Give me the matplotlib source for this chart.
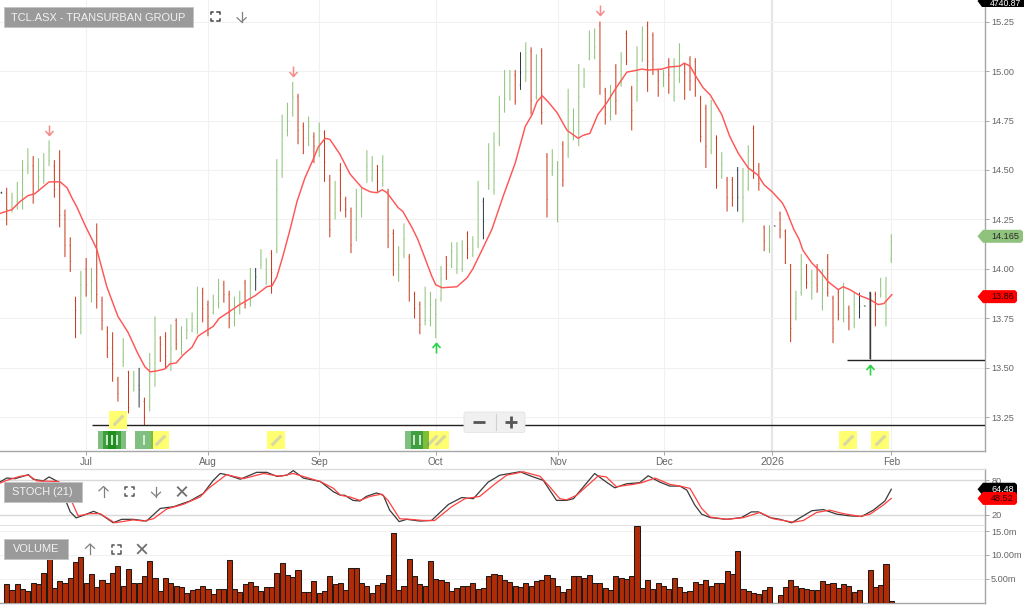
"""TCL.ASX daily price chart with stochastic and volume panes."""

import matplotlib

matplotlib.use("Agg")
import matplotlib.pyplot as plt
import numpy as np
from matplotlib.patches import FancyBboxPatch, Polygon, Rectangle
from matplotlib.path import Path

plt.rcParams["font.family"] = ["Liberation Sans", "DejaVu Sans"]

bar_dirs = (
    "krggggrggg" "rrrrrgrgrr" "rrrgrgkrgg" "rrgrggggrr" "ggrrggrgkg"
    "grggggrrgr" "grrgrrrggg" "grgrrggrrr" "ggggrgggrg" "gkgggggrkg"
    "rgrrggrggg" "gggrrgrgrr" "ggrrrgrggr" "rrrrgrgrrk" "ggrrrgkrrr"
    "ggrgrgrrrg" "rgkkkrggg"
)
highs = [
    14.39, 14.41, 14.385, 14.44, 14.55, 14.61, 14.57, 14.56, 14.585, 14.65,
    14.55, 14.60, 14.30, 14.16, 13.86, 13.99, 14.055, 14.005, 14.23, 13.86,
    13.71, 13.68, 13.455, 13.65, 13.485, 13.485, 13.50, 13.35, 13.575, 13.76,
    13.66, 13.68, 13.72, 13.75, 13.71, 13.75, 13.78, 13.91, 13.905, 13.84,
    13.87, 13.95, 13.94, 13.89, 13.86, 13.89, 13.945, 14.005, 14.005, 14.10,
    14.055, 14.095, 14.555, 14.78, 14.84, 14.945, 14.885, 14.74, 14.77, 14.69,
    14.74, 14.70, 14.475, 14.445, 14.535, 14.365, 14.31, 14.405, 14.41, 14.60,
    14.57, 14.525, 14.575, 14.405, 14.20, 14.115, 14.23, 14.075, 13.885, 13.835,
    13.91, 13.885, 13.85, 14.015, 14.065, 14.135, 14.135, 14.145, 14.19, 14.165,
    14.445, 14.36, 14.635, 14.69, 14.875, 15.005, 15.005, 15.005, 15.095, 15.145,
    15.12, 15.085, 15.115, 14.585, 14.605, 14.545, 14.645, 14.91, 14.81, 15.035,
    15.015, 15.205, 15.215, 15.25, 14.915, 14.93, 15.035, 15.095, 15.205, 14.925,
    15.125, 15.225, 15.25, 15.195, 15.005, 15.005, 15.065, 15.065, 15.14, 15.04,
    15.075, 15.065, 14.875, 14.83, 14.855, 14.675, 14.59, 14.465, 14.465, 14.515,
    14.51, 14.625, 14.725, 14.535, 14.22, 14.22, 14.22, 14.29, 14.20, 14.025,
    13.89, 14.075, 14.025, 13.995, 14.025, 14.00, 14.075, 13.865, 13.895, 13.93,
    13.815, 13.88, 13.88, 13.815, 13.885, 13.885, 13.955, 13.96, 14.175,
]
lows = [
    14.38, 14.22, 14.285, 14.30, 14.30, 14.48, 14.33, 14.39, 14.43, 14.52,
    14.36, 14.21, 14.06, 13.985, 13.65, 13.67, 13.86, 13.83, 13.80, 13.69,
    13.55, 13.43, 13.33, 13.505, 13.27, 13.38, 13.30, 13.21, 13.28, 13.405,
    13.53, 13.495, 13.485, 13.59, 13.565, 13.645, 13.68, 13.67, 13.73, 13.66,
    13.77, 13.80, 13.83, 13.70, 13.71, 13.77, 13.80, 13.81, 13.89, 14.00,
    13.92, 13.875, 14.08, 14.46, 14.67, 14.77, 14.63, 14.58, 14.62, 14.535,
    14.565, 14.44, 14.16, 14.25, 14.29, 14.26, 14.08, 14.14, 14.26, 14.435,
    14.44, 14.39, 14.415, 14.105, 13.965, 13.935, 14.055, 13.835, 13.75, 13.67,
    13.715, 13.71, 13.65, 13.835, 13.945, 14.005, 13.975, 13.985, 14.05, 14.06,
    14.105, 14.15, 14.40, 14.375, 14.62, 14.79, 14.85, 14.83, 14.905, 14.945,
    14.78, 14.855, 14.73, 14.26, 14.47, 14.235, 14.415, 14.56, 14.65, 14.62,
    14.915, 15.055, 15.06, 14.88, 14.73, 14.75, 14.78, 14.92, 15.03, 14.70,
    14.845, 15.045, 14.895, 14.98, 14.87, 14.92, 14.885, 14.845, 14.94, 14.855,
    14.90, 14.87, 14.64, 14.51, 14.58, 14.405, 14.455, 14.29, 14.315, 14.29,
    14.235, 14.395, 14.455, 14.395, 14.09, 14.08, 14.215, 14.155, 14.025, 13.63,
    13.74, 13.865, 13.90, 13.845, 13.88, 13.79, 13.86, 13.625, 13.74, 13.73,
    13.69, 13.70, 13.75, 13.81, 13.545, 13.71, 13.855, 13.71, 14.03,
]
opens = [
    14.385, 14.38, 14.31, 14.34, 14.37, 14.51, 14.52, 14.42, 14.46, 14.55,
    14.52, 14.42, 14.27, 14.12, 13.84, 13.75, 14.00, 13.88, 14.17, 13.84,
    13.68, 13.60, 13.44, 13.53, 13.48, 13.39, 13.41, 13.33, 13.30, 13.52,
    13.65, 13.66, 13.52, 13.74, 13.60, 13.65, 13.69, 13.71, 13.88, 13.82,
    13.78, 13.83, 13.92, 13.87, 13.73, 13.79, 13.93, 13.83, 13.99, 14.02,
    14.04, 14.08, 14.10, 14.48, 14.70, 14.79, 14.87, 14.72, 14.66, 14.67,
    14.60, 14.69, 14.45, 14.28, 14.50, 14.35, 14.29, 14.16, 14.30, 14.47,
    14.46, 14.52, 14.43, 14.39, 14.18, 13.96, 14.07, 14.06, 13.87, 13.82,
    13.74, 13.74, 13.68, 13.85, 14.06, 14.02, 14.00, 14.00, 14.18, 14.07,
    14.13, 14.34, 14.42, 14.40, 14.64, 14.81, 14.88, 14.98, 14.93, 14.97,
    15.10, 14.87, 15.10, 14.57, 14.49, 14.26, 14.63, 14.58, 14.67, 14.64,
    14.93, 15.06, 15.07, 15.23, 14.90, 14.77, 15.02, 14.94, 15.19, 14.91,
    14.87, 15.06, 15.23, 15.18, 15.00, 14.94, 15.05, 14.87, 14.96, 15.03,
    15.06, 15.05, 14.86, 14.81, 14.60, 14.66, 14.47, 14.45, 14.45, 14.50,
    14.26, 14.41, 14.71, 14.52, 14.21, 14.10, 14.22, 14.28, 14.19, 14.02,
    13.76, 13.88, 14.01, 13.87, 14.01, 13.81, 14.06, 13.85, 13.88, 13.75,
    13.80, 13.72, 13.87, 13.815, 13.88, 13.87, 13.87, 13.73, 14.05,
]
closes = [
    14.385, 14.30, 14.36, 14.40, 14.50, 14.52, 14.42, 14.46, 14.50, 14.60,
    14.40, 14.27, 14.12, 14.04, 13.79, 13.92, 13.92, 13.94, 13.87, 13.74,
    13.60, 13.52, 13.37, 13.57, 13.30, 13.41, 13.39, 13.25, 13.52, 13.69,
    13.62, 13.56, 13.60, 13.62, 13.63, 13.69, 13.71, 13.83, 13.80, 13.76,
    13.82, 13.90, 13.87, 13.75, 13.78, 13.83, 13.82, 13.96, 13.96, 14.04,
    13.96, 13.98, 14.40, 14.68, 14.75, 14.87, 14.70, 14.66, 14.72, 14.62,
    14.70, 14.54, 14.20, 14.35, 14.38, 14.30, 14.12, 14.31, 14.36, 14.52,
    14.52, 14.44, 14.50, 14.17, 14.02, 14.02, 14.15, 13.96, 13.80, 13.72,
    13.83, 13.82, 13.77, 13.95, 14.02, 14.09, 14.05, 14.09, 14.10, 14.10,
    14.30, 14.24, 14.55, 14.53, 14.78, 14.86, 14.95, 14.85, 14.99, 15.00,
    14.85, 14.97, 14.79, 14.35, 14.53, 14.50, 14.45, 14.80, 14.70, 14.87,
    14.98, 15.10, 15.12, 15.00, 14.78, 14.82, 14.85, 15.05, 15.05, 14.80,
    14.95, 15.16, 15.05, 15.06, 14.95, 14.98, 14.98, 14.92, 15.08, 14.99,
    14.95, 14.95, 14.67, 14.62, 14.79, 14.42, 14.53, 14.36, 14.36, 14.36,
    14.36, 14.60, 14.48, 14.43, 14.14, 14.19, 14.215, 14.20, 14.03, 13.70,
    13.85, 13.95, 13.93, 13.93, 13.92, 13.95, 13.88, 13.70, 13.77, 13.80,
    13.76, 13.82, 13.81, 13.81, 13.81, 13.79, 13.87, 13.80, 14.14,
]
ma_pos = [
    -0.3, 2.0, 3.5, 5.0, 6.3, 9.0, 11.1, 12.4, 13.3, 14.3, 15.8, 17.1, 18.0, 19.9,
    22.0, 23.9, 25.8, 27.1, 28.1, 29.4, 30.9, 31.8, 33.0, 34.3, 36.0, 37.1, 38.8,
    40.0, 41.1, 42.8, 45.0, 47.9, 50.1, 51.1, 52.0, 53.2, 54.5, 55.8, 57.3, 58.8,
    59.8, 61.1, 62.0, 63.9, 65.8, 67.1, 68.1, 69.6, 70.9, 71.9, 72.8, 74.9, 75.8,
    77.5, 78.6, 79.6, 81.3, 82.0, 83.2, 86.0, 87.9, 89.0, 90.9, 92.6, 94.7, 97.0,
    98.9, 100.2, 101.1, 102.1, 103.2, 104.9, 106.8, 108.9, 109.8, 111.1, 112.6,
    114.3, 115.8, 118.1, 119.2, 120.9, 122.1, 124.7, 125.9, 128.1, 128.9, 130.0,
    131.3, 132.5, 133.8, 136.0, 137.5, 139.1, 141.0, 142.8, 144.0, 145.5, 147.4,
    148.1, 149.6, 150.6, 151.3, 153.0, 154.5, 156.1, 158.0, 158.9, 160.2, 162.1,
    164.0, 165.5, 166.6, 168.1,
]
ma_val = [
    14.28, 14.30, 14.34, 14.37, 14.38, 14.44, 14.44, 14.41, 14.36, 14.31, 14.22, 14.15, 14.10, 13.91,
    13.76, 13.68, 13.57, 13.505, 13.48, 13.485, 13.495, 13.52, 13.525, 13.565, 13.605, 13.66, 13.69,
    13.71, 13.75, 13.78, 13.82, 13.865, 13.91, 13.915, 13.96, 14.07, 14.20, 14.34, 14.46, 14.55,
    14.615, 14.66, 14.655, 14.58, 14.48, 14.44, 14.41, 14.39, 14.385, 14.40, 14.385, 14.31, 14.29,
    14.21, 14.15, 14.08, 13.96, 13.92, 13.905, 13.91, 13.955, 14.00, 14.105, 14.20, 14.365, 14.535,
    14.72, 14.78, 14.845, 14.875, 14.845, 14.79, 14.70, 14.66, 14.675, 14.685, 14.78,
    14.84, 14.905, 14.995, 15.00, 15.01, 15.005, 15.01, 15.02, 15.025, 15.04, 15.025,
    14.965, 14.915, 14.88, 14.78, 14.67, 14.585, 14.51, 14.475, 14.425, 14.39, 14.335,
    14.30, 14.20, 14.15, 14.095, 14.03, 13.99, 13.935, 13.895, 13.91, 13.895, 13.865,
    13.845, 13.82, 13.825, 13.87,
]
stoch_k_pos = [
    -0.3, 1.0, 2.6, 5.1, 6.0, 7.9, 9.0, 10.8, 12.0, 13.0, 14.1, 15.5, 17.4, 18.9, 21.1, 22.7, 24.9,
    27.4, 30.0, 32.5, 35.6, 38.1, 40.0, 41.3, 42.5, 45.1, 48.2, 50.1, 52.0, 53.9, 55.1, 57.0, 60.2,
    62.7, 64.0, 64.8, 66.4, 67.7, 68.9, 70.8, 72.1, 73.3, 75.1, 76.5, 79.0, 81.2, 84.4, 86.9, 89.1,
    91.9, 94.1, 97.9, 100.1, 102.3, 104.8, 106.7, 108.0, 112.0, 114.2, 115.8, 118.0, 120.5, 122.1,
    124.3, 126.2, 128.1, 129.4, 130.9, 132.2, 133.8, 136.9, 139.7, 141.6, 142.9, 145.1, 147.0, 149.2,
    153.0, 155.2, 157.7, 160.2, 162.4, 164.6, 166.8, 168.0,
]
stoch_k = [
    77, 84, 83, 90, 82, 79, 86, 77, 48, 25, 14.5, 19, 26, 20, 6, 12, 12,
    9, 31, 34, 44, 57, 80, 92, 90, 82, 94, 94, 87, 89, 97, 84, 78,
    60, 54, 54, 45, 44, 52, 58, 54, 28, 8, 12, 9, 10, 38, 50, 48,
    77, 89, 95, 87, 80, 45, 45, 48, 92, 77, 67, 74, 76, 88,
    77, 70, 70, 63, 37, 21, 15, 12, 15, 25, 25, 15, 12, 6,
    27, 29, 21, 18, 17, 28, 44, 64.48,
]
stoch_d_pos = [
    -0.3, 1.0, 3.5, 5.1, 6.7, 10.8, 12.3, 14.5, 16.7, 18.6, 21.4, 24.9, 26.8, 28.7, 31.2, 34.3, 37.5,
    39.1, 42.5, 45.7, 49.5, 52.6, 55.1, 60.2, 62.7, 64.0, 65.8, 67.7, 69.6, 71.8, 73.0, 75.2, 77.1,
    79.6, 81.8, 85.0, 87.5, 90.3, 93.2, 95.4, 98.5, 101.7, 103.5, 105.4, 106.7, 108.6, 112.7, 114.2,
    116.1, 119.3, 120.9, 123.4, 126.2, 128.1, 130.0, 132.2, 133.8, 136.9, 140.1, 143.2, 145.7, 149.5,
    151.4, 153.9, 156.4, 158.9, 162.1, 164.0, 166.5, 168.0,
]
stoch_d = [
    75, 80, 87, 89, 79, 78, 63, 18, 22, 22, 6, 11, 9, 13, 30, 38, 51,
    66, 90, 83, 92, 87, 92, 78, 66, 54, 51, 45, 52, 56, 45, 13, 12,
    10, 10, 34, 48, 52, 74, 89, 95, 87, 69, 48, 46, 54, 88, 86,
    69, 73, 76, 84, 73, 70, 66, 31, 16, 12, 15, 24, 13, 7,
    10, 24, 28, 22, 17, 21, 37, 48.52,
]
# millions of shares; the zero days are the flat bars with no volume drawn
volume = [
    0,
    3.8, 2.6, 3.8, 2.8, 2.4, 4.2, 3.8, 6.1, 9.1, 3.0, 4.5, 4.0, 5.1, 8.5, 9.5, 4.2,
    5.9, 3.3, 4.8, 4.2, 6.1, 7.6, 3.5, 7.1, 4.0, 4.2, 5.6, 8.8, 5.1, 2.4, 5.1, 4.2,
    3.4, 3.2, 2.1, 2.6, 2.8, 3.4, 2.9, 1.7, 2.8, 2.8, 9.0, 2.9, 2.2, 3.8, 4.3, 3.5,
    2.5, 3.3, 3.3, 6.2, 8.3, 5.7, 5.3, 6.8, 2.2, 2.2, 4.5, 1.9, 2.4, 5.6, 3.9, 4.0,
    2.6, 7.3, 7.3, 4.2, 3.4, 2.1, 3.6, 4.2, 5.7, 14.6, 2.6, 3.4, 9.2, 5.5, 3.8, 3.4,
    8.7, 5.0, 4.7, 4.3, 2.4, 3.1, 3.4, 3.4, 4.2, 2.8, 3.0, 5.5, 5.9, 5.7, 4.7, 4.3,
    3.4, 3.2, 4.0, 3.4, 4.5, 4.7, 5.7, 5.2, 3.4, 2.2, 2.8, 5.5, 5.5, 5.2, 5.7, 4.2,
    4.2, 3.0, 2.7, 5.5, 5.2, 5.0, 5.5, 16.1, 3.0, 4.7, 2.8, 4.2, 3.4, 2.9, 5.2, 3.2,
    2.2, 2.4, 4.3, 3.9, 4.7, 3.5, 4.0, 4.0, 6.6, 6.0, 10.8, 2.9, 2.4, 2.0, 1.7, 2.6,
    3.2, 0, 1.5, 3.2, 4.7, 3.4, 3.0, 2.8, 2.6, 2.6, 4.5, 3.8, 4.2, 3.0, 3.8, 3.4,
    2.2, 2.6, 0, 6.9, 3.2, 3.6, 8.0, 0.3,
]

month_pos = [16, 39, 60, 82, 105, 125, 145.5, 168]
month_labels = ["Jul", "Aug", "Sep", "Oct", "Nov", "Dec", "2026", "Feb"]
price_ticks = [13.25, 13.50, 13.75, 14.00, 14.25, 14.50, 14.75, 15.00, 15.25]
stoch_ticks = [20, 80]
vol_ticks = [5, 10, 15]
vol_tick_labels = ["5.00m", "10.00m", "15.0m"]

sell_pos, sell_price = [9, 55, 113], [14.70, 15.00, 15.31]
buy_pos, buy_price = [82, 164], [13.60, 13.49]
support_pos, support_price = [17.1, 159.7], [13.209, 13.54]
note_pos = [22.0, 29.9, 51.8, 81.3, 82.8, 159.8, 165.9]
note_price = [13.237, 13.136, 13.136, 13.136, 13.136, 13.136, 13.136]
trade_pos = [19.9, 20.8, 21.9, 26.9, 77.9, 79.0]
trade_price = [13.136] * 6
last_price, last_ma = 14.165, 13.86
last_k, last_d = 64.48, 48.52

W, H = 1024, 605
RIGHT = 985.3
GRID = "#f1f1f1"
AXIS = "#a6a6a6"
TEXT = "#666666"
BAR_COLORS = {"g": "#8cc278", "r": "#c8381a", "k": "#2f3a45"}

DOWN_ARROW = Path(
    [(0, 1), (0, -1), (-0.8, -0.1), (0, -1), (0.8, -0.1)],
    [Path.MOVETO, Path.LINETO, Path.MOVETO, Path.LINETO, Path.LINETO],
)
UP_ARROW = Path(DOWN_ARROW.vertices * [1, -1], DOWN_ARROW.codes)
PENCIL = Path([(-1, -1), (1, 1)], [Path.MOVETO, Path.LINETO])


def pane(top, bottom):
    ax = fig.add_axes([0, 1 - bottom / H, RIGHT / W, (bottom - top) / H])
    ax.set_xlim(-0.264, 185.75)
    ax.set_xticks(month_pos)
    ax.grid(True, color=GRID, linewidth=0.8)
    ax.set_axisbelow(True)
    ax.yaxis.tick_right()
    ax.tick_params(axis="y", length=3, width=0.7, color=AXIS, labelcolor=TEXT, labelsize=6.6, pad=1.2)
    ax.tick_params(axis="x", length=0, labelbottom=False)
    for name, spine in ax.spines.items():
        spine.set_visible(name in ("right", "bottom"))
        spine.set_color(AXIS)
        spine.set_linewidth(1.0)
    return ax


def gray_label(x0, y0, x1, y1, text, size):
    ui.add_patch(Rectangle((x0, y0), x1 - x0, y1 - y0, fc="#9a9a9a", ec="#c4c4c4", lw=0.7))
    ui.text((x0 + x1) / 2, (y0 + y1) / 2 + 0.3, text, color="#f2f2f2", fontsize=size,
            ha="center", va="center")


def icon_expand(cx, cy, color="#555555"):
    r, c = 4.5, 2.2
    for sx in (-1, 1):
        for sy in (-1, 1):
            ui.plot([cx + sx * r, cx + sx * r, cx + sx * (r - c)],
                    [cy + sy * (r - c), cy + sy * r, cy + sy * r], color=color, lw=1.1)


def icon_arrow(cx, cy, direction, color="#808080"):
    r = 5.0 * direction
    ui.plot([cx, cx], [cy - r, cy + r], color=color, lw=0.9)
    ui.plot([cx - 4.5, cx, cx + 4.5], [cy + r * 0.15, cy + r, cy + r * 0.15], color=color, lw=0.9)


def icon_close(cx, cy, color="#707070"):
    r = 4.2
    ui.plot([cx - r, cx + r], [cy - r, cy + r], color=color, lw=1.3)
    ui.plot([cx - r, cx + r], [cy + r, cy - r], color=color, lw=1.3)


def value_tag(ax, value, text, face, text_color, x1=1015):
    y = H - ax.transData.transform((0, value))[1]
    ui.add_patch(Polygon([(977.5, y), (983, y - 6.5), (x1, y - 6.5), (x1 + 2, y - 4.5),
                          (x1 + 2, y + 4.5), (x1, y + 6.5), (983, y + 6.5)],
                         closed=True, fc=face, ec="none"))
    ui.text(991, y + 0.3, text, color=text_color, fontsize=6.6, ha="left", va="center")


fig = plt.figure(figsize=(W / 100, H / 100), dpi=100)
fig.patch.set_facecolor("white")

x = np.arange(len(highs))
opens, closes = np.array(opens), np.array(closes)

# price pane
ax_price = pane(0, 451)
ax_price.set_ylim(13.08, 15.359)
ax_price.set_yticks(price_ticks, [f"{p:.2f}" for p in price_ticks])
ax_price.tick_params(axis="x", length=3, width=0.7, color=AXIS, labelbottom=True,
                     labelcolor=TEXT, labelsize=7.2, pad=1.5)
ax_price.set_xticklabels(month_labels)
ax_price.get_xticklabels()[6].set_fontsize(7.8)
ax_price.get_xgridlines()[6].set_linewidth(1.6)
ax_price.get_xgridlines()[6].set_color("#e6e6e6")

for code, color in BAR_COLORS.items():
    idx = np.array([i for i, c in enumerate(bar_dirs) if c == code])
    ax_price.vlines(x[idx], np.array(lows)[idx], np.array(highs)[idx], color=color,
                    linewidth=0.72, zorder=3, snap=False)
    ax_price.hlines(opens[idx], x[idx] - 0.2, x[idx], color=color, linewidth=0.5,
                    alpha=0.55, zorder=3, snap=False)
    ax_price.hlines(closes[idx], x[idx], x[idx] + 0.2, color=color, linewidth=0.5,
                    alpha=0.55, zorder=3, snap=False)
ax_price.plot(ma_pos, ma_val, color="#ff5656", linewidth=1.05, zorder=4)

# the low of the reversal bar is marked by a heavier stem
ax_price.vlines(x[164], lows[164], highs[164], color="#3a3a3a", linewidth=1.0, zorder=4)
for pos, price in zip(support_pos, support_price):
    ax_price.hlines(price, pos, 185.75, color="#222222", linewidth=1.0, zorder=4)

ax_price.plot(sell_pos, sell_price, ls="none", marker=DOWN_ARROW, ms=7.2, mew=1.1,
              mfc="none", mec="#f58d8d", zorder=5)
ax_price.plot(buy_pos, buy_price, ls="none", marker=UP_ARROW, ms=7.2, mew=1.2,
              mfc="none", mec="#2fd24a", zorder=5)

ax_price.scatter(note_pos, note_price, marker="s", s=168, color="#ffff70", linewidths=0, zorder=5)
ax_price.plot(note_pos, note_price, ls="none", marker=PENCIL, ms=7, mew=2.2,
              mec="#d8d8a4", zorder=6)
ax_price.scatter(trade_pos, trade_price, marker="s", s=168, color="#008000", alpha=0.5,
                 linewidths=0, zorder=7)
ax_price.plot(trade_pos, trade_price, ls="none", marker="|", ms=7, mew=1.2, mec="#e8f5e8", zorder=8)

# stochastic pane
ax_stoch = pane(468.9, 526.2)
ax_stoch.set_ylim(0, 100)
ax_stoch.set_yticks(stoch_ticks)
ax_stoch.xaxis.grid(False)
ax_stoch.yaxis.grid(True, color="#d9d9d9", linewidth=1.0)
ax_stoch.spines["top"].set_visible(True)
ax_stoch.spines["top"].set_color("#dcdcdc")
ax_stoch.spines["bottom"].set_color("#dcdcdc")
ax_stoch.spines["bottom"].set_linewidth(1.3)
ax_stoch.plot(stoch_k_pos, stoch_k, color="#3a3a3a", linewidth=0.9, zorder=3)
ax_stoch.plot(stoch_d_pos, stoch_d, color="#ff4040", linewidth=0.9, zorder=4)

# volume pane
ax_vol = pane(526.2, 602.5)
ax_vol.set_ylim(0, 16.03)
ax_vol.set_yticks(vol_ticks, vol_tick_labels)
ax_vol.xaxis.grid(False)
ax_vol.bar(x, volume, width=0.96, color="#b02c07", edgecolor="#1f1a18", linewidth=0.75, zorder=3)

# controls and tags sit on top of everything, in screen pixels
ui = fig.add_axes([0, 0, 1, 1], facecolor="none")
ui.set_xlim(0, W)
ui.set_ylim(H, 0)
ui.axis("off")

gray_label(3.7, 7.3, 193, 27.3, "TCL.ASX - TRANSURBAN GROUP", 7.9)
icon_expand(215, 16.5, "#444444")
icon_arrow(241.6, 17, 1)
gray_label(3.7, 482, 81.7, 501.7, "STOCH (21)", 7.9)
icon_arrow(103.5, 491.5, -1)
icon_expand(129.5, 491.5)
icon_arrow(156, 491.5, 1)
icon_close(182, 491.5)
gray_label(3.7, 539, 68, 559, "VOLUME", 7.9)
icon_arrow(90, 549, -1)
icon_expand(116, 549)
icon_close(142, 549)

ui.add_patch(FancyBboxPatch((464, 412), 61, 20.5, boxstyle="round,pad=0,rounding_size=2",
                            fc="#f0f0f0", ec="#e4e4e4", lw=0.6))
ui.plot([473, 484.5], [421.5, 421.5], color="#555555", lw=2.0, solid_capstyle="butt")
ui.plot([496.3, 496.3], [414, 430], color="#d0d0d0", lw=0.8)
ui.plot([505, 517], [421.5, 421.5], color="#555555", lw=2.0, solid_capstyle="butt")
ui.plot([511, 511], [415.5, 427.5], color="#555555", lw=2.0, solid_capstyle="butt")

value_tag(ax_price, last_price, "14.165", "#8fc27c", "#2a2a2a", x1=1021)
value_tag(ax_price, last_ma, "13.86", "#ff0000", "#2a0000")
value_tag(ax_stoch, last_k, "64.48", "#000000", "#ffffff")
value_tag(ax_stoch, last_d, "48.52", "#ff0000", "#2a0000")
ui.add_patch(Polygon([(977.5, 1), (982, 7), (1024, 7), (1024, -4), (982, -4)],
                     closed=True, fc="#000000", ec="none"))
ui.text(990, 3.6, "4740.87", color="#ffffff", fontsize=6.2, ha="left", va="center")

fig.savefig("out.png", dpi=100)
